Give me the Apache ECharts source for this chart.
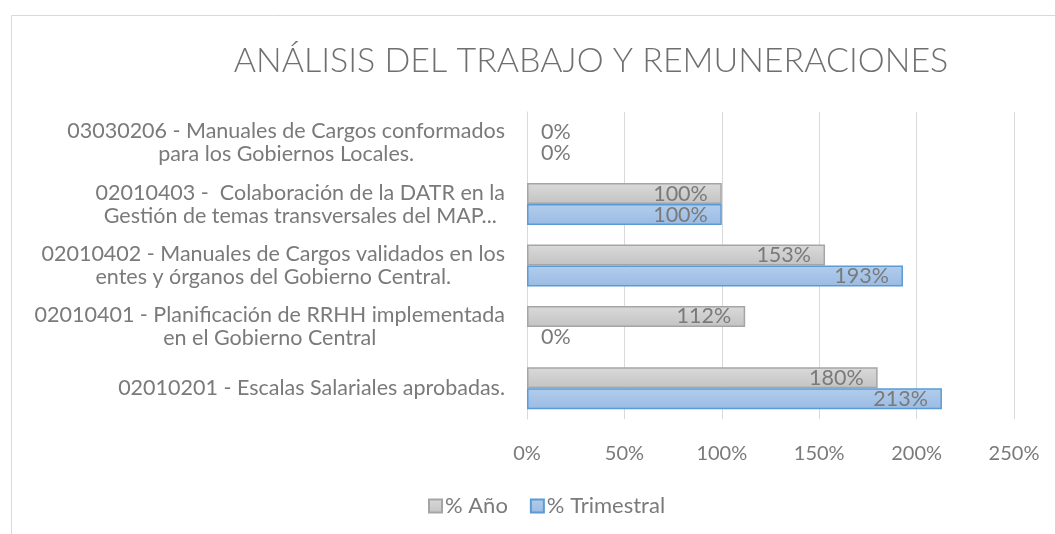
<!DOCTYPE html>
<html>
<head>
<meta charset="utf-8">
<script src="https://cdn.jsdelivr.net/npm/echarts@6/dist/echarts.min.js"></script>
<style>
	html, body {margin: 0; padding: 0; background: #fff;}
	#chart {width: 1055px; height: 534px;}
</style>
</head>
<body>
<div id="chart"></div>
<script>
var categorias = [
	'03030206 - Manuales de Cargos conformados\npara los Gobiernos Locales.',
	'02010403 -  Colaboración de la DATR en la\nGestión de temas transversales del MAP...',
	'02010402 - Manuales de Cargos validados en los\nentes y órganos del Gobierno Central.',
	'02010401 - Planificación de RRHH implementada\nen el Gobierno Central',
	'02010201 - Escalas Salariales aprobadas.'
];
var porcAnio = [0, 100, 153, 112, 180];
var porcTrimestral = [0, 100, 193, 0, 213];
var ticksX = [0, 50, 100, 150, 200, 250];

!function(){
	var dom = document.getElementById("chart");
	var myChart = echarts.init(dom);
	var fuente = 'Lato';
	var gris = '#7a7a7a';

	// barras en cero: sin borde y etiqueta fuera de la barra, como en Excel
	function armarDatos(valores){
		var out = [];
		for (var i = 0; i < valores.length; i++) {
			if (valores[i] === 0) {
				out.push({
					value: 0,
					itemStyle: {borderWidth: 0},
					label: {position: 'right', distance: 14}
				});
			} else {
				out.push(valores[i]);
			}
		}
		return out;
	}

	function etiquetaBarra(){
		return {
			show: true,
			position: 'insideRight',
			distance: 14,
			color: gris,
			fontFamily: fuente,
			fontSize: 21.5,
			formatter: '{c}%'
		};
	}

	var option = {
		backgroundColor: '#fff',
		animation: false,
		graphic: [{
			type: 'rect',
			left: 9,
			top: 13,
			shape: {width: 1200, height: 700},
			style: {fill: 'none', stroke: '#d9d9d9', lineWidth: 1}
		}],
		title: {
			text: 'ANÁLISIS DEL TRABAJO Y REMUNERACIONES',
			left: 586,
			textAlign: 'center',
			top: 39,
			textStyle: {
				color: '#6f6f6f',
				fontFamily: fuente,
				fontWeight: 300,
				fontSize: 34
			}
		},
		legend: {
			data: ['% Año', '% Trimestral'],
			left: 423,
			top: 490,
			icon: 'rect',
			itemWidth: 13,
			itemHeight: 13,
			itemGap: 22,
			textStyle: {color: gris, fontFamily: fuente, fontSize: 22, padding: [0, 0, 0, -2]}
		},
		grid: {
			left: 527,
			right: 41,
			top: 112,
			bottom: 115
		},
		xAxis: {
			type: 'value',
			min: ticksX[0],
			max: ticksX[ticksX.length - 1],
			interval: 50,
			axisLine: {show: false},
			axisTick: {show: false},
			splitLine: {lineStyle: {color: '#d9d9d9', width: 1}},
			axisLabel: {
				color: gris,
				fontFamily: fuente,
				fontSize: 20,
				margin: 25,
				formatter: '{value}%'
			}
		},
		yAxis: {
			type: 'category',
			inverse: true,
			data: categorias,
			axisLine: {show: true, lineStyle: {color: '#d9d9d9'}},
			axisTick: {show: false},
			axisLabel: {
				margin: 22,
				align: 'right',
				formatter: function(v){
					return v.split('\n').map(function(l){ return '{c|' + l + '}'; }).join('\n');
				},
				rich: {
					c: {
						align: 'center',
						color: gris,
						fontFamily: fuente,
						fontSize: 21.5,
						lineHeight: 23
					}
				}
			}
		},
		series: [
			{
				name: '% Año',
				type: 'bar',
				barWidth: 21,
				barGap: '0%',
				data: armarDatos(porcAnio),
				label: etiquetaBarra(),
				itemStyle: {
					color: new echarts.graphic.LinearGradient(0, 0, 0, 1, [
						{offset: 0, color: '#dadada'},
						{offset: 1, color: '#c3c3c3'}
					]),
					borderColor: '#a5a5a5',
					borderWidth: 1.5
				}
			},
			{
				name: '% Trimestral',
				type: 'bar',
				barWidth: 21,
				data: armarDatos(porcTrimestral),
				label: etiquetaBarra(),
				itemStyle: {
					color: new echarts.graphic.LinearGradient(0, 0, 0, 1, [
						{offset: 0, color: '#b2cdec'},
						{offset: 1, color: '#9bbbe4'}
					]),
					borderColor: '#5b9bd5',
					borderWidth: 1.5
				}
			}
		]
	};

	myChart.setOption(option, true);
}();
</script>
</body>
</html>
